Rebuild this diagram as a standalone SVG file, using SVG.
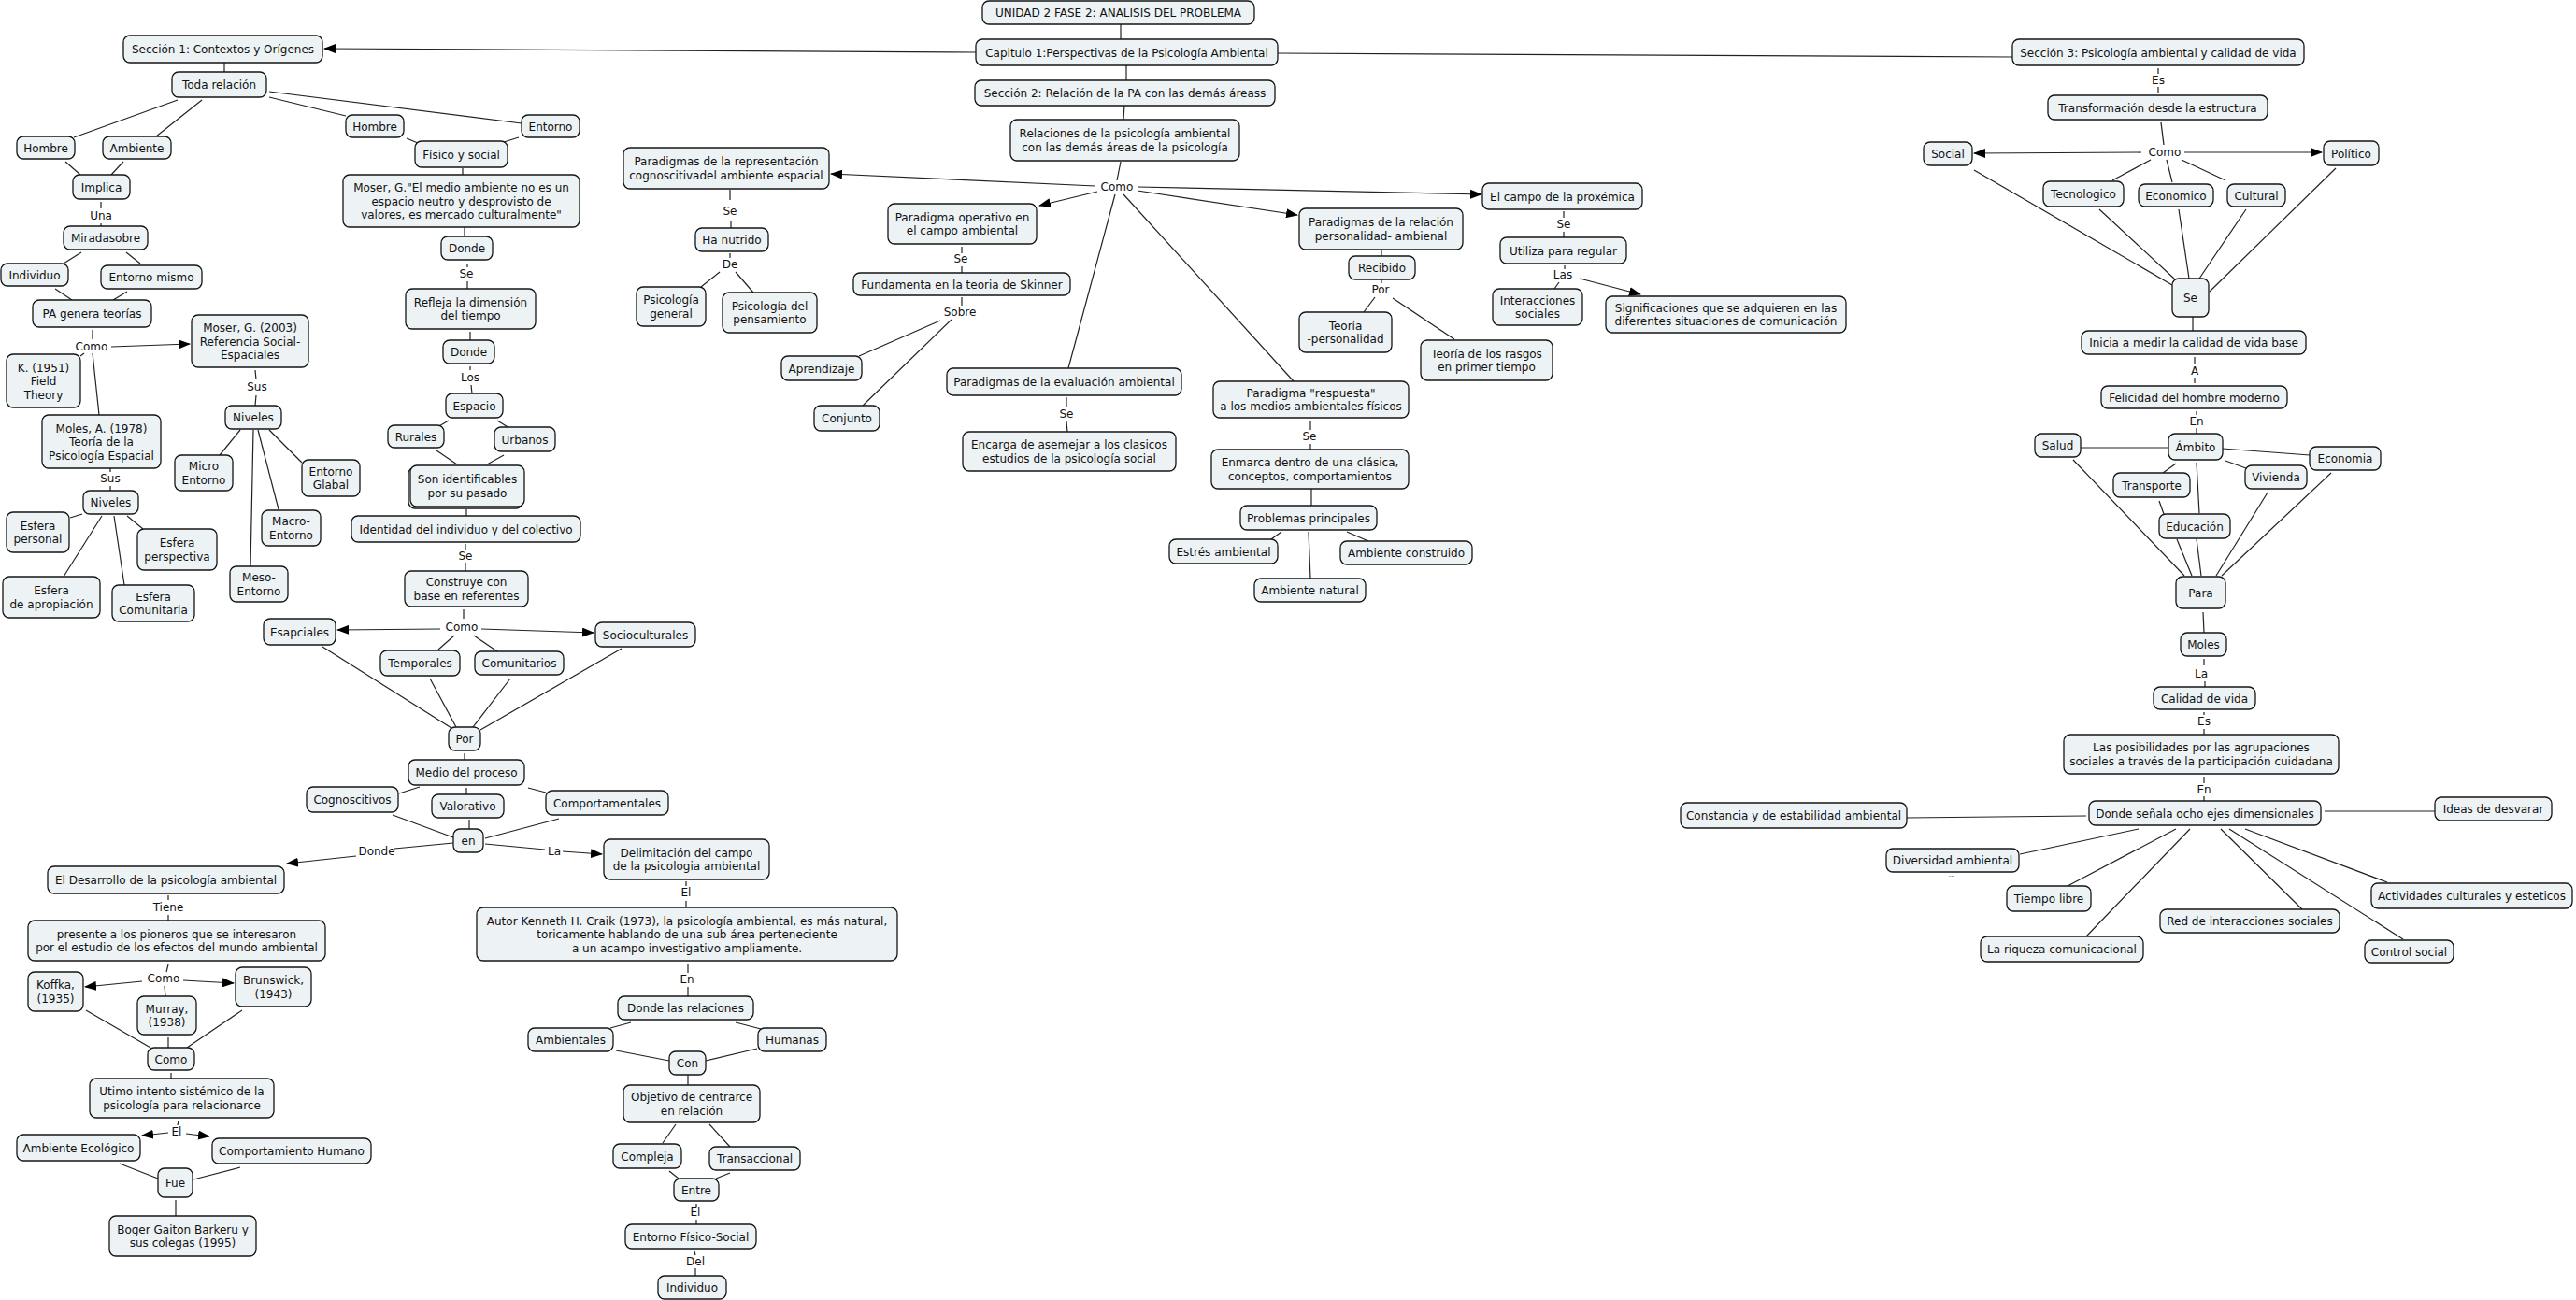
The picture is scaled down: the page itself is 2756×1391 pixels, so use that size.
<svg xmlns="http://www.w3.org/2000/svg" width="2756" height="1391" viewBox="0 0 2756 1391">
<style>
.n{fill:#edf2f4;stroke:#151515;stroke-width:1.3}
.t{font-family:"DejaVu Sans",Verdana,sans-serif;font-size:12px;fill:#111;text-anchor:middle}
.c path{stroke:#222;stroke-width:1.2;fill:none}
.c path.a{marker-end:url(#ar)}
</style>
<defs>
<marker id="ar" markerWidth="13" markerHeight="10" refX="12" refY="5" orient="auto" markerUnits="userSpaceOnUse"><path d="M0,0 L13,5 L0,10 z" fill="#000"/></marker>
</defs>
<rect width="2756" height="1391" fill="#fff"/>
<g id="connectors" class="c">
<path class="a" d="M1044 56L347 52"/>
<path d="M1367 57L2153 61"/>
<path d="M1199 26L1199 42"/>
<path d="M1205 70L1205 86"/>
<path d="M1203 113L1202 128"/>
<path d="M1199 173L1195 193"/>
<path class="a" d="M1172 199L889 186"/>
<path class="a" d="M1174 205L1112 220"/>
<path class="a" d="M1217 200L1585 208"/>
<path class="a" d="M1217 204L1388 230"/>
<path d="M1193 208L1143 394"/>
<path d="M1202 208L1384 408"/>
<path d="M781 203L781 214M782 236L782 244"/>
<path d="M781 271L781 276"/>
<path d="M770 291L750 307"/>
<path d="M787 291L806 313"/>
<path d="M1029 264L1029 271M1029 285L1029 292"/>
<path d="M1029 318L1029 327"/>
<path d="M1006 343L919 381"/>
<path d="M1018 342L923 434"/>
<path d="M1141 425L1141 436M1141 451L1142 462"/>
<path d="M1402 450L1402 460M1402 475L1402 481"/>
<path d="M1403 523L1403 541"/>
<path d="M1371 569L1360 577"/>
<path d="M1400 569L1402 619"/>
<path d="M1441 569L1464 579"/>
<path d="M1673 226L1673 233M1673 248L1673 254"/>
<path d="M1674 284L1674 288"/>
<path d="M1668 302L1663 309"/>
<path class="a" d="M1690 298L1755 315"/>
<path d="M1478 267L1478 274"/>
<path d="M1478 299L1478 303"/>
<path d="M1471 318L1459 334"/>
<path d="M1490 319L1556 363"/>
<path d="M240 67L240 77"/>
<path d="M190 107L79 147"/>
<path d="M216 107L167 146"/>
<path d="M288 104L370 124"/>
<path d="M288 98L558 132"/>
<path d="M70 173L86 187"/>
<path d="M132 173L119 187"/>
<path d="M435 148L447 153"/>
<path d="M555 147L539 152"/>
<path d="M495 180L495 187"/>
<path d="M108 216L108 223M108 239L108 242"/>
<path d="M87 270L68 282"/>
<path d="M135 270L150 282"/>
<path d="M59 309L77 321"/>
<path d="M136 312L121 321"/>
<path d="M99 353L99 363"/>
<path class="a" d="M119 371L203 368"/>
<path d="M90 378L86 381"/>
<path d="M99 378L106 444"/>
<path d="M497 243L497 253"/>
<path d="M500 282L500 286M500 301L500 309"/>
<path d="M503 355L503 364"/>
<path d="M503 392L503 396M504 412L505 421"/>
<path d="M273 396L274 406M274 423L273 434"/>
<path d="M480 450L468 457"/>
<path d="M532 450L545 458"/>
<path d="M118 501L118 505M118 520L118 525"/>
<path d="M88 550L75 554"/>
<path d="M136 552L153 566"/>
<path d="M109 552L68 617"/>
<path d="M122 552L133 626"/>
<path d="M257 460L235 487"/>
<path d="M271 460L268 606"/>
<path d="M276 460L298 545"/>
<path d="M288 460L323 495"/>
<path d="M467 482L489 497"/>
<path d="M539 487L521 497"/>
<path d="M499 545L499 552"/>
<path d="M498 582L498 588M498 602L498 611"/>
<path d="M496 652L496 662"/>
<path class="a" d="M471 673L361 674"/>
<path class="a" d="M515 673L635 677"/>
<path d="M486 680L469 695"/>
<path d="M507 680L532 697"/>
<path d="M345 692L483 779"/>
<path d="M460 726L488 778"/>
<path d="M546 726L506 778"/>
<path d="M665 694L514 781"/>
<path d="M497 806L497 813"/>
<path d="M449 842L427 849"/>
<path d="M499 843L499 850"/>
<path d="M565 843L584 848"/>
<path d="M420 872L485 896"/>
<path d="M502 877L502 887"/>
<path d="M598 876L519 897"/>
<path d="M485 902L422 908"/>
<path class="a" d="M381 916L307 924"/>
<path d="M519 903L583 909"/>
<path class="a" d="M602 911L644 914"/>
<path d="M180 958L180 963M180 979L180 985"/>
<path d="M180 1032L178 1040"/>
<path class="a" d="M152 1050L91 1056"/>
<path class="a" d="M196 1049L250 1052"/>
<path d="M176 1055L177 1066"/>
<path d="M92 1081L161 1121"/>
<path d="M180 1110L180 1121"/>
<path d="M259 1081L200 1121"/>
<path d="M183 1148L183 1154"/>
<path d="M191 1199L190 1204"/>
<path class="a" d="M180 1212L152 1215"/>
<path class="a" d="M199 1213L224 1216"/>
<path d="M128 1245L169 1261"/>
<path d="M257 1249L207 1262"/>
<path d="M188 1284L188 1301"/>
<path d="M734 943L734 948M734 964L734 971"/>
<path d="M736 1032L736 1041M736 1056L736 1066"/>
<path d="M675 1094L653 1100"/>
<path d="M787 1094L814 1101"/>
<path d="M659 1124L716 1135"/>
<path d="M810 1122L755 1135"/>
<path d="M736 1150L736 1161"/>
<path d="M723 1203L709 1223"/>
<path d="M759 1203L781 1227"/>
<path d="M716 1253L726 1261"/>
<path d="M781 1255L766 1261"/>
<path d="M745 1288L745 1291M745 1305L745 1310"/>
<path d="M743 1339L744 1343M744 1357L744 1365"/>
<path d="M2309 73L2309 79M2309 93L2309 99"/>
<path d="M2312 131L2315 155"/>
<path class="a" d="M2291 163L2112 164"/>
<path class="a" d="M2337 163L2484 163"/>
<path d="M2301 171L2260 193"/>
<path d="M2318 171L2324 195"/>
<path d="M2334 171L2381 193"/>
<path d="M2112 182L2324 305"/>
<path d="M2246 224L2326 298"/>
<path d="M2331 224L2342 298"/>
<path d="M2403 224L2353 298"/>
<path d="M2499 180L2364 312"/>
<path d="M2346 339L2346 354"/>
<path d="M2348 382L2348 389M2348 404L2348 410"/>
<path d="M2350 440L2350 444M2350 458L2350 464"/>
<path d="M2320 479L2226 479"/>
<path d="M2378 480L2471 487"/>
<path d="M2328 496L2314 506"/>
<path d="M2381 493L2403 501"/>
<path d="M2350 495L2353 549"/>
<path d="M2310 536L2315 550"/>
<path d="M2218 492L2337 616"/>
<path d="M2329 577L2345 616"/>
<path d="M2350 577L2355 616"/>
<path d="M2426 527L2371 616"/>
<path d="M2494 506L2377 616"/>
<path d="M2357 655L2358 677"/>
<path d="M2358 705L2358 712M2359 729L2359 735"/>
<path d="M2358 762L2358 765M2358 780L2358 786"/>
<path d="M2358 831L2358 838M2358 852L2358 857"/>
<path d="M2232 873L2040 875"/>
<path d="M2487 868L2605 868"/>
<path d="M2288 887L2161 914"/>
<path d="M2328 887L2212 948"/>
<path d="M2343 887L2232 1002"/>
<path d="M2376 887L2463 973"/>
<path d="M2385 887L2571 1005"/>
<path d="M2402 887L2554 944"/>
</g>
<g id="labels" class="t">
<text x="108" y="235">Una</text>
<text x="98" y="375">Como</text>
<text x="499" y="297">Se</text>
<text x="503" y="408">Los</text>
<text x="275" y="418">Sus</text>
<text x="118" y="516">Sus</text>
<text x="498" y="599">Se</text>
<text x="494" y="675">Como</text>
<text x="403" y="915">Donde</text>
<text x="593" y="915">La</text>
<text x="180" y="975">Tiene</text>
<text x="175" y="1051">Como</text>
<text x="189" y="1215">El</text>
<text x="734" y="959">El</text>
<text x="735" y="1052">En</text>
<text x="744" y="1301">El</text>
<text x="744" y="1354">Del</text>
<text x="1195" y="204">Como</text>
<text x="781" y="230">Se</text>
<text x="781" y="287">De</text>
<text x="1028" y="281">Se</text>
<text x="1027" y="338">Sobre</text>
<text x="1141" y="447">Se</text>
<text x="1401" y="471">Se</text>
<text x="1673" y="244">Se</text>
<text x="1672" y="298">Las</text>
<text x="1477" y="314">Por</text>
<text x="2309" y="90">Es</text>
<text x="2316" y="167">Como</text>
<text x="2348" y="401">A</text>
<text x="2350" y="455">En</text>
<text x="2355" y="725">La</text>
<text x="2358" y="776">Es</text>
<text x="2358" y="849">En</text>
<text x="2088" y="938" style="font-size:7px">...</text>
</g>
<g id="unidad"><rect class="n" x="1051" y="1" width="291" height="25" rx="7"/><text class="t" x="1196.5" y="18">UNIDAD 2 FASE 2: ANALISIS DEL PROBLEMA</text></g>
<g id="cap1"><rect class="n" x="1044" y="42" width="323" height="28" rx="7"/><text class="t" x="1205.5" y="60.5">Capitulo 1:Perspectivas de la Psicología Ambiental</text></g>
<g id="sec2"><rect class="n" x="1043" y="86" width="321" height="27" rx="7"/><text class="t" x="1203.5" y="104">Sección 2: Relación de la PA con las demás áreass</text></g>
<g id="rel"><rect class="n" x="1081" y="128" width="245" height="44" rx="7"/><text class="t" y="147.25"><tspan x="1203.5">Relaciones de la psicología ambiental</tspan><tspan x="1203.5" dy="14.5">con las demás áreas de la psicología</tspan></text></g>
<g id="sec1"><rect class="n" x="132" y="38" width="213" height="29" rx="7"/><text class="t" x="238.5" y="57">Sección 1: Contextos y Orígenes</text></g>
<g id="sec3"><rect class="n" x="2153" y="42" width="312" height="28" rx="7"/><text class="t" x="2309" y="60.5">Sección 3: Psicología ambiental y calidad de vida</text></g>
<g id="toda"><rect class="n" x="184" y="77" width="101" height="27" rx="7"/><text class="t" x="234.5" y="95">Toda relación</text></g>
<g id="hombre1"><rect class="n" x="18" y="146" width="62" height="24" rx="7"/><text class="t" x="49" y="162.5">Hombre</text></g>
<g id="ambiente"><rect class="n" x="110" y="146" width="73" height="24" rx="7"/><text class="t" x="146.5" y="162.5">Ambiente</text></g>
<g id="hombre2"><rect class="n" x="370" y="123" width="62" height="24" rx="7"/><text class="t" x="401" y="139.5">Hombre</text></g>
<g id="entorno"><rect class="n" x="558" y="123" width="62" height="24" rx="7"/><text class="t" x="589" y="139.5">Entorno</text></g>
<g id="fisico"><rect class="n" x="444" y="151" width="99" height="28" rx="7"/><text class="t" x="493.5" y="169.5">Físico y social</text></g>
<g id="moserq"><rect class="n" x="367" y="187" width="253" height="56" rx="7"/><text class="t" y="205"><tspan x="493.5">Moser, G."El medio ambiente no es un</tspan><tspan x="493.5" dy="14.5">espacio  neutro y desprovisto de</tspan><tspan x="493.5" dy="14.5">valores, es mercado culturalmente"</tspan></text></g>
<g id="implica"><rect class="n" x="78" y="187" width="61" height="26" rx="7"/><text class="t" x="108.5" y="204.5">Implica</text></g>
<g id="mirada"><rect class="n" x="68" y="242" width="90" height="25" rx="7"/><text class="t" x="113" y="259">Miradasobre</text></g>
<g id="individuo"><rect class="n" x="1" y="282" width="72" height="24" rx="7"/><text class="t" x="37" y="298.5">Individuo</text></g>
<g id="entmismo"><rect class="n" x="108" y="284" width="108" height="25" rx="7"/><text class="t" x="162" y="301">Entorno mismo</text></g>
<g id="pagenera"><rect class="n" x="35" y="321" width="127" height="29" rx="7"/><text class="t" x="98.5" y="340">PA genera teorías</text></g>
<g id="moser03"><rect class="n" x="205" y="337" width="125" height="56" rx="7"/><text class="t" y="355"><tspan x="267.5">Moser, G. (2003)</tspan><tspan x="267.5" dy="14.5">Referencia Social-</tspan><tspan x="267.5" dy="14.5">Espaciales</tspan></text></g>
<g id="k1951"><rect class="n" x="7" y="379" width="79" height="57" rx="7"/><text class="t" y="397.5"><tspan x="46.5">K. (1951)</tspan><tspan x="46.5" dy="14.5">Field</tspan><tspan x="46.5" dy="14.5">Theory</tspan></text></g>
<g id="moles78"><rect class="n" x="45" y="444" width="127" height="57" rx="7"/><text class="t" y="462.5"><tspan x="108.5">Moles, A. (1978)</tspan><tspan x="108.5" dy="14.5">Teoría de la</tspan><tspan x="108.5" dy="14.5">Psicología Espacial</tspan></text></g>
<g id="donde1"><rect class="n" x="472" y="253" width="55" height="25" rx="7"/><text class="t" x="499.5" y="270">Donde</text></g>
<g id="refleja"><rect class="n" x="434" y="309" width="139" height="43" rx="7"/><text class="t" y="327.75"><tspan x="503.5">Refleja la dimensión</tspan><tspan x="503.5" dy="14.5">del tiempo</tspan></text></g>
<g id="donde2"><rect class="n" x="474" y="364" width="55" height="25" rx="7"/><text class="t" x="501.5" y="381">Donde</text></g>
<g id="espacio"><rect class="n" x="477" y="421" width="61" height="26" rx="7"/><text class="t" x="507.5" y="438.5">Espacio</text></g>
<g id="niveles1"><rect class="n" x="241" y="434" width="60" height="25" rx="7"/><text class="t" x="271" y="451">Niveles</text></g>
<g id="niveles2"><rect class="n" x="89" y="525" width="59" height="25" rx="7"/><text class="t" x="118.5" y="542">Niveles</text></g>
<g id="micro"><rect class="n" x="187" y="487" width="62" height="38" rx="7"/><text class="t" y="503.25"><tspan x="218">Micro</tspan><tspan x="218" dy="14.5">Entorno</tspan></text></g>
<g id="glabal"><rect class="n" x="323" y="492" width="62" height="39" rx="7"/><text class="t" y="508.75"><tspan x="354">Entorno</tspan><tspan x="354" dy="14.5">Glabal</tspan></text></g>
<g id="macro"><rect class="n" x="280" y="546" width="63" height="38" rx="7"/><text class="t" y="562.25"><tspan x="311.5">Macro-</tspan><tspan x="311.5" dy="14.5">Entorno</tspan></text></g>
<g id="meso"><rect class="n" x="246" y="606" width="62" height="38" rx="7"/><text class="t" y="622.25"><tspan x="277">Meso-</tspan><tspan x="277" dy="14.5">Entorno</tspan></text></g>
<g id="espers"><rect class="n" x="7" y="548" width="67" height="43" rx="7"/><text class="t" y="566.75"><tspan x="40.5">Esfera</tspan><tspan x="40.5" dy="14.5">personal</tspan></text></g>
<g id="esperp"><rect class="n" x="147" y="566" width="85" height="44" rx="7"/><text class="t" y="585.25"><tspan x="189.5">Esfera</tspan><tspan x="189.5" dy="14.5">perspectiva</tspan></text></g>
<g id="esapro"><rect class="n" x="3" y="617" width="104" height="44" rx="7"/><text class="t" y="636.25"><tspan x="55">Esfera</tspan><tspan x="55" dy="14.5">de apropiación</tspan></text></g>
<g id="escom"><rect class="n" x="120" y="626" width="88" height="39" rx="7"/><text class="t" y="642.75"><tspan x="164">Esfera</tspan><tspan x="164" dy="14.5">Comunitaria</tspan></text></g>
<g id="rurales"><rect class="n" x="415" y="455" width="60" height="24" rx="7"/><text class="t" x="445" y="471.5">Rurales</text></g>
<g id="urbanos"><rect class="n" x="529" y="457" width="65" height="26" rx="7"/><text class="t" x="561.5" y="474.5">Urbanos</text></g>
<g id="son"><rect class="n" x="437" y="500" width="122" height="44" rx="7"/><rect class="n" x="439" y="498" width="122" height="44" rx="7"/><text class="t" y="517.25"><tspan x="500">Son identificables</tspan><tspan x="500" dy="14.5">por su pasado</tspan></text></g>
<g id="identidad"><rect class="n" x="376" y="552" width="245" height="28" rx="7"/><text class="t" x="498.5" y="570.5">Identidad del individuo y del colectivo</text></g>
<g id="construye"><rect class="n" x="433" y="611" width="132" height="38" rx="7"/><text class="t" y="627.25"><tspan x="499">Construye con</tspan><tspan x="499" dy="14.5">base en referentes</tspan></text></g>
<g id="esap"><rect class="n" x="282" y="662" width="77" height="28" rx="7"/><text class="t" x="320.5" y="680.5">Esapciales</text></g>
<g id="socio"><rect class="n" x="637" y="666" width="107" height="26" rx="7"/><text class="t" x="690.5" y="683.5">Socioculturales</text></g>
<g id="temp"><rect class="n" x="407" y="696" width="85" height="27" rx="7"/><text class="t" x="449.5" y="714">Temporales</text></g>
<g id="comun"><rect class="n" x="508" y="697" width="95" height="25" rx="7"/><text class="t" x="555.5" y="714">Comunitarios</text></g>
<g id="por"><rect class="n" x="480" y="778" width="34" height="25" rx="7"/><text class="t" x="497" y="795">Por</text></g>
<g id="medio"><rect class="n" x="437" y="813" width="124" height="27" rx="7"/><text class="t" x="499" y="831">Medio del proceso</text></g>
<g id="cogn"><rect class="n" x="328" y="842" width="98" height="27" rx="7"/><text class="t" x="377" y="860">Cognoscitivos</text></g>
<g id="valor"><rect class="n" x="462" y="850" width="77" height="25" rx="7"/><text class="t" x="500.5" y="867">Valorativo</text></g>
<g id="compor"><rect class="n" x="584" y="846" width="131" height="26" rx="7"/><text class="t" x="649.5" y="863.5">Comportamentales</text></g>
<g id="en"><rect class="n" x="485" y="887" width="32" height="25" rx="7"/><text class="t" x="501" y="904">en</text></g>
<g id="delim"><rect class="n" x="646" y="898" width="177" height="43" rx="7"/><text class="t" y="916.75"><tspan x="734.5">Delimitación del campo</tspan><tspan x="734.5" dy="14.5">de la psicologia ambiental</tspan></text></g>
<g id="desarr"><rect class="n" x="51" y="927" width="253" height="29" rx="7"/><text class="t" x="177.5" y="946">El Desarrollo de la psicología ambiental</text></g>
<g id="presente"><rect class="n" x="30" y="985" width="318" height="43" rx="7"/><text class="t" y="1003.75"><tspan x="189">presente a los pioneros que se interesaron</tspan><tspan x="189" dy="14.5">por el estudio de los efectos del mundo ambiental</tspan></text></g>
<g id="koffka"><rect class="n" x="30" y="1040" width="59" height="42" rx="7"/><text class="t" y="1058.25"><tspan x="59.5">Koffka,</tspan><tspan x="59.5" dy="14.5">(1935)</tspan></text></g>
<g id="brun"><rect class="n" x="252" y="1035" width="81" height="42" rx="7"/><text class="t" y="1053.25"><tspan x="292.5">Brunswick,</tspan><tspan x="292.5" dy="14.5">(1943)</tspan></text></g>
<g id="murray"><rect class="n" x="147" y="1066" width="63" height="41" rx="7"/><text class="t" y="1083.75"><tspan x="178.5">Murray,</tspan><tspan x="178.5" dy="14.5">(1938)</tspan></text></g>
<g id="como2"><rect class="n" x="158" y="1121" width="50" height="24" rx="7"/><text class="t" x="183" y="1137.5">Como</text></g>
<g id="utimo"><rect class="n" x="96" y="1154" width="197" height="42" rx="7"/><text class="t" y="1172.25"><tspan x="194.5">Utimo intento sistémico de la</tspan><tspan x="194.5" dy="14.5">psicología para relacionarce</tspan></text></g>
<g id="ameco"><rect class="n" x="18" y="1214" width="132" height="28" rx="7"/><text class="t" x="84" y="1232.5">Ambiente Ecológico</text></g>
<g id="comphum"><rect class="n" x="227" y="1218" width="170" height="27" rx="7"/><text class="t" x="312" y="1236">Comportamiento Humano</text></g>
<g id="fue"><rect class="n" x="169" y="1250" width="37" height="31" rx="7"/><text class="t" x="187.5" y="1270">Fue</text></g>
<g id="boger"><rect class="n" x="117" y="1301" width="157" height="43" rx="7"/><text class="t" y="1319.75"><tspan x="195.5">Boger Gaiton Barkeru y</tspan><tspan x="195.5" dy="14.5">sus colegas (1995)</tspan></text></g>
<g id="craik"><rect class="n" x="510" y="971" width="450" height="57" rx="7"/><text class="t" y="989.5"><tspan x="735">Autor Kenneth H. Craik (1973), la psicología ambiental, es más natural,</tspan><tspan x="735" dy="14.5">toricamente hablando de una sub área perteneciente</tspan><tspan x="735" dy="14.5">a un acampo investigativo ampliamente.</tspan></text></g>
<g id="dondeRel"><rect class="n" x="661" y="1066" width="145" height="25" rx="7"/><text class="t" x="733.5" y="1083">Donde las relaciones</text></g>
<g id="ambientales"><rect class="n" x="565" y="1100" width="91" height="25" rx="7"/><text class="t" x="610.5" y="1117">Ambientales</text></g>
<g id="humanas"><rect class="n" x="811" y="1100" width="73" height="25" rx="7"/><text class="t" x="847.5" y="1117">Humanas</text></g>
<g id="con"><rect class="n" x="716" y="1125" width="39" height="25" rx="7"/><text class="t" x="735.5" y="1142">Con</text></g>
<g id="objetivo"><rect class="n" x="667" y="1161" width="146" height="40" rx="7"/><text class="t" y="1178.25"><tspan x="740">Objetivo de centrarce</tspan><tspan x="740" dy="14.5">en relación</tspan></text></g>
<g id="compleja"><rect class="n" x="656" y="1224" width="73" height="26" rx="7"/><text class="t" x="692.5" y="1241.5">Compleja</text></g>
<g id="trans"><rect class="n" x="759" y="1227" width="97" height="25" rx="7"/><text class="t" x="807.5" y="1244">Transaccional</text></g>
<g id="entre"><rect class="n" x="721" y="1261" width="48" height="24" rx="7"/><text class="t" x="745" y="1277.5">Entre</text></g>
<g id="entfs"><rect class="n" x="669" y="1310" width="140" height="26" rx="7"/><text class="t" x="739" y="1327.5">Entorno Físico-Social</text></g>
<g id="indiv2"><rect class="n" x="704" y="1365" width="73" height="25" rx="7"/><text class="t" x="740.5" y="1382">Individuo</text></g>
<g id="pararep"><rect class="n" x="667" y="158" width="220" height="44" rx="7"/><text class="t" y="177.25"><tspan x="777">Paradigmas de la representación</tspan><tspan x="777" dy="14.5">cognoscitivadel ambiente espacial</tspan></text></g>
<g id="hanut"><rect class="n" x="744" y="244" width="78" height="25" rx="7"/><text class="t" x="783" y="261">Ha nutrido</text></g>
<g id="psigen"><rect class="n" x="681" y="307" width="74" height="42" rx="7"/><text class="t" y="325.25"><tspan x="718">Psicología</tspan><tspan x="718" dy="14.5">general</tspan></text></g>
<g id="psipen"><rect class="n" x="773" y="313" width="101" height="43" rx="7"/><text class="t" y="331.75"><tspan x="823.5">Psicología del</tspan><tspan x="823.5" dy="14.5">pensamiento</tspan></text></g>
<g id="paraop"><rect class="n" x="950" y="218" width="159" height="43" rx="7"/><text class="t" y="236.75"><tspan x="1029.5">Paradigma operativo en</tspan><tspan x="1029.5" dy="14.5">el campo ambiental</tspan></text></g>
<g id="fund"><rect class="n" x="913" y="292" width="232" height="24" rx="7"/><text class="t" x="1029" y="308.5">Fundamenta en la teoria de Skinner</text></g>
<g id="aprend"><rect class="n" x="836" y="381" width="86" height="26" rx="7"/><text class="t" x="879" y="398.5">Aprendizaje</text></g>
<g id="conj"><rect class="n" x="871" y="434" width="70" height="27" rx="7"/><text class="t" x="906" y="452">Conjunto</text></g>
<g id="paraeval"><rect class="n" x="1013" y="394" width="251" height="29" rx="7"/><text class="t" x="1138.5" y="413">Paradigmas de la evaluación ambiental</text></g>
<g id="encarga"><rect class="n" x="1030" y="462" width="228" height="42" rx="7"/><text class="t" y="480.25"><tspan x="1144">Encarga de asemejar a los clasicos</tspan><tspan x="1144" dy="14.5">estudios de la psicología social</tspan></text></g>
<g id="pararesp"><rect class="n" x="1298" y="408" width="209" height="39" rx="7"/><text class="t" y="424.75"><tspan x="1402.5">Paradigma "respuesta"</tspan><tspan x="1402.5" dy="14.5">a los medios ambientales físicos</tspan></text></g>
<g id="enmarca"><rect class="n" x="1296" y="481" width="211" height="42" rx="7"/><text class="t" y="499.25"><tspan x="1401.5">Enmarca dentro de una clásica,</tspan><tspan x="1401.5" dy="14.5">conceptos, comportamientos</tspan></text></g>
<g id="problemas"><rect class="n" x="1327" y="541" width="146" height="26" rx="7"/><text class="t" x="1400" y="558.5">Problemas principales</text></g>
<g id="estres"><rect class="n" x="1251" y="577" width="116" height="26" rx="7"/><text class="t" x="1309" y="594.5">Estrés ambiental</text></g>
<g id="amcons"><rect class="n" x="1434" y="579" width="141" height="25" rx="7"/><text class="t" x="1504.5" y="596">Ambiente construido</text></g>
<g id="amnat"><rect class="n" x="1342" y="619" width="119" height="25" rx="7"/><text class="t" x="1401.5" y="636">Ambiente natural</text></g>
<g id="prox"><rect class="n" x="1586" y="196" width="171" height="28" rx="7"/><text class="t" x="1671.5" y="214.5">El campo de la proxémica</text></g>
<g id="utiliza"><rect class="n" x="1605" y="254" width="135" height="28" rx="7"/><text class="t" x="1672.5" y="272.5">Utiliza para regular</text></g>
<g id="interac"><rect class="n" x="1597" y="309" width="96" height="39" rx="7"/><text class="t" y="325.75"><tspan x="1645">Interacciones</tspan><tspan x="1645" dy="14.5">sociales</tspan></text></g>
<g id="signif"><rect class="n" x="1718" y="317" width="257" height="39" rx="7"/><text class="t" y="333.75"><tspan x="1846.5">Significaciones que se adquieren en las</tspan><tspan x="1846.5" dy="14.5">diferentes situaciones de comunicación</tspan></text></g>
<g id="pararel"><rect class="n" x="1390" y="223" width="175" height="44" rx="7"/><text class="t" y="242.25"><tspan x="1477.5">Paradigmas de la relación</tspan><tspan x="1477.5" dy="14.5">personalidad- ambienal</tspan></text></g>
<g id="recibido"><rect class="n" x="1443" y="274" width="71" height="25" rx="7"/><text class="t" x="1478.5" y="291">Recibido</text></g>
<g id="teopers"><rect class="n" x="1390" y="334" width="99" height="43" rx="7"/><text class="t" y="352.75"><tspan x="1439.5">Teoría</tspan><tspan x="1439.5" dy="14.5">-personalidad</tspan></text></g>
<g id="teorasgos"><rect class="n" x="1520" y="364" width="141" height="43" rx="7"/><text class="t" y="382.75"><tspan x="1590.5">Teoría de los rasgos</tspan><tspan x="1590.5" dy="14.5">en primer tiempo</tspan></text></g>
<g id="transf"><rect class="n" x="2191" y="102" width="235" height="26" rx="7"/><text class="t" x="2308.5" y="119.5">Transformación desde la estructura</text></g>
<g id="social"><rect class="n" x="2058" y="152" width="52" height="25" rx="7"/><text class="t" x="2084" y="169">Social</text></g>
<g id="politico"><rect class="n" x="2486" y="151" width="59" height="26" rx="7"/><text class="t" x="2515.5" y="168.5">Político</text></g>
<g id="tecno"><rect class="n" x="2186" y="194" width="86" height="27" rx="7"/><text class="t" x="2229" y="212">Tecnologico</text></g>
<g id="econ"><rect class="n" x="2288" y="197" width="80" height="24" rx="7"/><text class="t" x="2328" y="213.5">Economico</text></g>
<g id="cultural"><rect class="n" x="2383" y="197" width="62" height="24" rx="7"/><text class="t" x="2414" y="213.5">Cultural</text></g>
<g id="se"><rect class="n" x="2324" y="298" width="39" height="41" rx="7"/><text class="t" x="2343.5" y="323">Se</text></g>
<g id="inicia"><rect class="n" x="2227" y="354" width="240" height="25" rx="7"/><text class="t" x="2347" y="371">Inicia a medir la calidad de vida base</text></g>
<g id="felic"><rect class="n" x="2248" y="413" width="199" height="24" rx="7"/><text class="t" x="2347.5" y="429.5">Felicidad del hombre moderno</text></g>
<g id="ambito"><rect class="n" x="2320" y="464" width="58" height="28" rx="7"/><text class="t" x="2349" y="482.5">Ámbito</text></g>
<g id="salud"><rect class="n" x="2177" y="464" width="49" height="25" rx="7"/><text class="t" x="2201.5" y="481">Salud</text></g>
<g id="economia"><rect class="n" x="2471" y="478" width="76" height="25" rx="7"/><text class="t" x="2509" y="495">Economia</text></g>
<g id="transp"><rect class="n" x="2261" y="506" width="82" height="26" rx="7"/><text class="t" x="2302" y="523.5">Transporte</text></g>
<g id="vivienda"><rect class="n" x="2402" y="498" width="66" height="25" rx="7"/><text class="t" x="2435" y="515">Vivienda</text></g>
<g id="educ"><rect class="n" x="2310" y="550" width="76" height="26" rx="7"/><text class="t" x="2348" y="567.5">Educación</text></g>
<g id="para"><rect class="n" x="2328" y="617" width="53" height="34" rx="7"/><text class="t" x="2354.5" y="638.5">Para</text></g>
<g id="moles"><rect class="n" x="2333" y="677" width="49" height="25" rx="7"/><text class="t" x="2357.5" y="694">Moles</text></g>
<g id="calidad"><rect class="n" x="2304" y="735" width="109" height="24" rx="7"/><text class="t" x="2358.5" y="751.5">Calidad de vida</text></g>
<g id="posib"><rect class="n" x="2208" y="786" width="294" height="42" rx="7"/><text class="t" y="804.25"><tspan x="2355">Las posibilidades por las agrupaciones</tspan><tspan x="2355" dy="14.5">sociales a través de la participación cuidadana</tspan></text></g>
<g id="dondes"><rect class="n" x="2235" y="857" width="248" height="26" rx="7"/><text class="t" x="2359" y="874.5">Donde señala ocho ejes dimensionales</text></g>
<g id="ideas"><rect class="n" x="2605" y="853" width="125" height="25" rx="7"/><text class="t" x="2667.5" y="870">Ideas de desvarar</text></g>
<g id="const"><rect class="n" x="1798" y="859" width="242" height="27" rx="7"/><text class="t" x="1919" y="877">Constancia y de estabilidad ambiental</text></g>
<g id="divers"><rect class="n" x="2018" y="908" width="142" height="25" rx="7"/><text class="t" x="2089" y="925">Diversidad ambiental</text></g>
<g id="tiempo"><rect class="n" x="2147" y="948" width="90" height="27" rx="7"/><text class="t" x="2192" y="966">Tiempo libre</text></g>
<g id="riqueza"><rect class="n" x="2119" y="1002" width="174" height="27" rx="7"/><text class="t" x="2206" y="1020">La riqueza comunicacional</text></g>
<g id="red"><rect class="n" x="2311" y="973" width="192" height="25" rx="7"/><text class="t" x="2407" y="990">Red de interacciones sociales</text></g>
<g id="activ"><rect class="n" x="2537" y="945" width="215" height="27" rx="7"/><text class="t" x="2644.5" y="963">Actividades culturales y esteticos</text></g>
<g id="control"><rect class="n" x="2530" y="1006" width="95" height="24" rx="7"/><text class="t" x="2577.5" y="1022.5">Control social</text></g>
</svg>
